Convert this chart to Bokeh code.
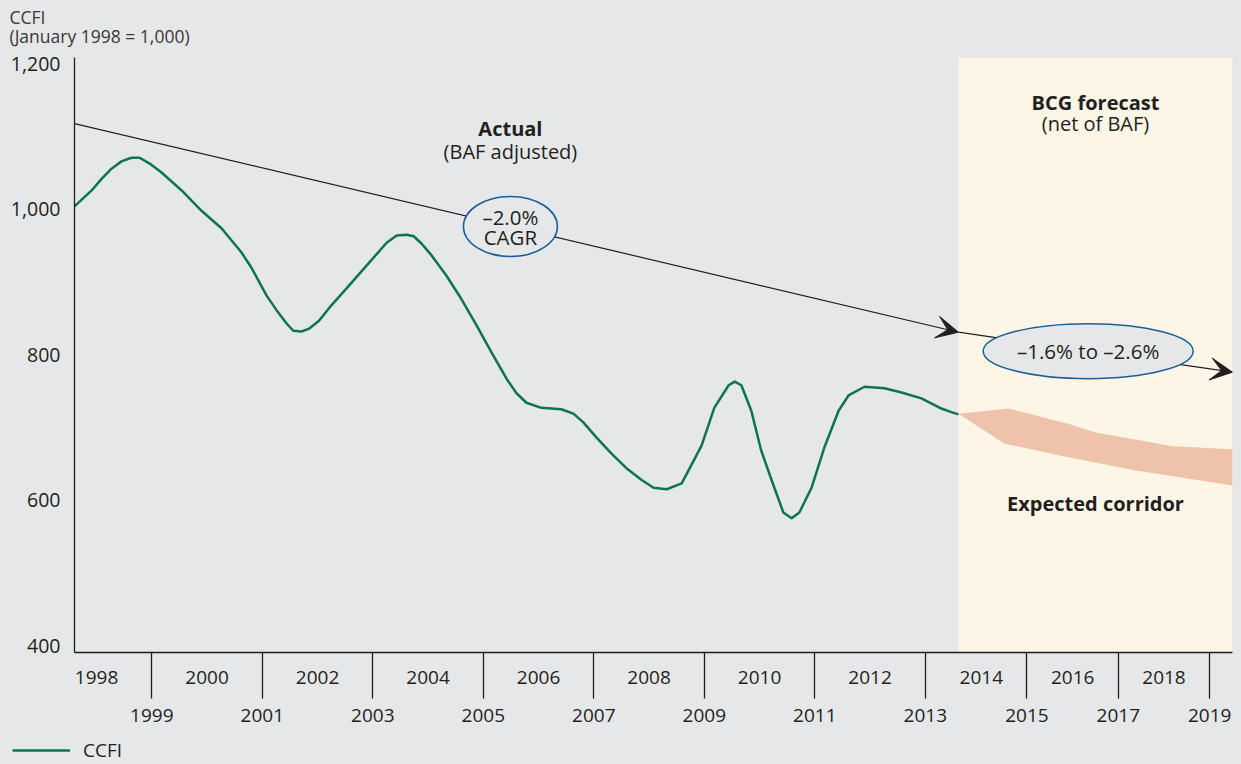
import numpy as np
from bokeh.plotting import figure
from bokeh.layouts import column, row
from bokeh.models import (Range1d, LinearAxis, FixedTicker, NumeralTickFormatter, BoxAnnotation,
                          Arrow, VeeHead, Label, Legend, LegendItem)
from bokeh.embed import file_html
from bokeh.resources import INLINE

# ---------------- data ----------------
ccfi_time = [1998.00, 1998.31, 1998.49, 1998.67, 1998.85, 1999.03, 1999.18, 1999.36, 1999.57, 1999.94,
             2000.30, 2000.66, 2001.02, 2001.20, 2001.48, 2001.66, 2001.84, 2001.96, 2002.11, 2002.25,
             2002.43, 2002.65, 2002.92, 2003.29, 2003.65, 2003.83, 2004.01, 2004.14, 2004.28, 2004.46,
             2004.73, 2005.00, 2005.28, 2005.55, 2005.82, 2006.00, 2006.18, 2006.45, 2006.81, 2007.03,
             2007.21, 2007.45, 2007.72, 2007.99, 2008.26, 2008.48, 2008.72, 2008.99, 2009.35, 2009.58,
             2009.84, 2009.95, 2010.07, 2010.25, 2010.43, 2010.62, 2010.83, 2010.98, 2011.12, 2011.34,
             2011.57, 2011.83, 2012.01, 2012.30, 2012.66, 2012.97, 2013.33, 2013.69, 2013.87, 2014.00]
ccfi_value = [1004, 1026, 1042, 1056, 1066, 1071, 1071, 1063, 1051, 1026,
              998, 974, 941, 920, 881, 861, 843, 833, 832, 836,
              847, 868, 891, 923, 954, 964, 965, 963, 953, 937,
              909, 877, 840, 803, 767, 747, 734, 727, 725, 719,
              707, 686, 664, 644, 628, 617, 615, 623, 675, 727,
              758, 763, 758, 723, 668, 627, 583, 575, 583, 617,
              672, 723, 744, 756, 754, 748, 740, 726, 721, 718]

corridor_upper_time = [2014.0, 2015.1, 2016.4, 2017.0, 2018.7, 2020.0]
corridor_upper_value = [719, 726, 705, 693, 674, 670]
corridor_lower_time = [2014.0, 2015.0, 2016.4, 2017.85, 2020.0]
corridor_lower_value = [719, 678, 659, 641, 620]

trend_time = [1998.0, 2014.0, 2020.0]
trend_value = [1118, 831, 776]

actual_years = list(range(1998, 2014))
forecast_years = list(range(2014, 2020))
y_ticks = [400, 600, 800, 1000, 1200]

# ---------------- axis mapping (forecast years drawn narrower) ----------------
FORECAST_START = 2014.0
FORECAST_SCALE = 45.67 / 55.25


def pos(t):
    t = float(t)
    if t <= FORECAST_START:
        return t - 1998.0
    return (FORECAST_START - 1998.0) + (t - FORECAST_START) * FORECAST_SCALE


def pos_all(ts):
    return [pos(t) for t in ts]


BG = "#e6e7e8"
TXT = "#231f20"
GREEN = "#0d7451"
FONT = "Open Sans"


def strip(height):
    f = figure(width=1241, height=height, output_backend="svg", toolbar_location=None,
               x_range=Range1d(0, 1), y_range=Range1d(0, 1), min_border=0,
               min_border_left=0, min_border_right=0, min_border_top=0, min_border_bottom=0,
               x_axis_location=None, y_axis_location=None)
    f.xgrid.visible = False
    f.ygrid.visible = False
    f.outline_line_color = None
    f.background_fill_color = BG
    f.border_fill_color = BG
    return f


# ---------------- header strip with the unit texts ----------------
top = strip(47)
for txt, yy in (("CCFI", 47 - 16), ("(January 1998 = 1,000)", 47 - 35)):
    top.add_layout(Label(x=9, y=yy, x_units="screen", y_units="screen", text=txt, text_font=FONT,
                         text_font_size="17.5px", text_color="#3a3738", text_align="left",
                         text_baseline="middle"))

# ---------------- main chart ----------------
p = figure(frame_width=1158, frame_height=595, output_backend="svg", toolbar_location=None,
           x_range=Range1d(0, pos(2020.0)), y_range=Range1d(390.4, 1208.9),
           min_border_left=74, min_border_right=9, min_border_top=10, min_border_bottom=76)
p.background_fill_color = BG
p.border_fill_color = BG
p.outline_line_color = None
p.xgrid.visible = False
p.ygrid.visible = False

# forecast band
p.add_layout(BoxAnnotation(left=pos(FORECAST_START), fill_color="#fdf6e6", fill_alpha=1.0,
                           line_color=None, level="underlay"))

# trend arrows
for i in range(2):
    p.add_layout(Arrow(end=VeeHead(size=22, fill_color=TXT, line_color=TXT, line_width=1),
                       x_start=pos(trend_time[i]), y_start=trend_value[i],
                       x_end=pos(trend_time[i + 1]), y_end=trend_value[i + 1],
                       line_color=TXT, line_width=1.2, level="underlay"))

# corridor
cx = pos_all(corridor_upper_time) + pos_all(corridor_lower_time[::-1])
cy = corridor_upper_value + corridor_lower_value[::-1]
p.patch(cx, cy, fill_color="#efc3ab", line_color=None)

# CCFI line
r = p.line(pos_all(ccfi_time), ccfi_value, line_color=GREEN, line_width=2.5, line_join="round")

# ellipses placed on the trend line
tx = pos_all(trend_time)
e1_t, e2_t = 2005.89, 2016.84
e1x, e2x = pos(e1_t), pos(e2_t)
e1y, e2y = float(np.interp(e1x, tx, trend_value)), float(np.interp(e2x, tx, trend_value))
p.ellipse(x=[e1x], y=[e1y], width=94, height=60, width_units="screen", height_units="screen",
          fill_color=BG, line_color="#1c5f97", line_width=1.5)
p.ellipse(x=[e2x], y=[e2y], width=210, height=55, width_units="screen", height_units="screen",
          fill_color=BG, line_color="#1c5f97", line_width=1.5)


def lab(x, y, text, size="20px", bold=False, align="center"):
    p.add_layout(Label(x=x, y=y, text=text, text_font=FONT,
                       text_font_size=size, text_color=TXT, text_align=align,
                       text_baseline="middle", text_font_style="bold" if bold else "normal"))


lab(e1x, e1y + 12.5, "\u20132.0%", size="20.5px")
lab(e1x, e1y - 14, "CAGR", size="20.5px")
lab(e2x, e2y, "\u20131.6% to \u20132.6%", size="20.5px")
lab(pos(2005.89), 1111, "Actual", bold=True)
lab(pos(2005.89), 1080, "(BAF adjusted)")
lab(pos(2017.0), 1147, "BCG forecast", bold=True)
lab(pos(2017.0), 1118, "(net of BAF)")
lab(pos(2017.0), 595, "Expected corridor", bold=True)

# y axis
ya = p.yaxis[0]
ya.ticker = FixedTicker(ticks=y_ticks)
ya.formatter = NumeralTickFormatter(format="0,0")
ya.major_tick_line_color = None
ya.major_tick_out = 0
ya.major_tick_in = 0
ya.minor_tick_line_color = None
ya.major_label_standoff = 14
ya.axis_line_color = TXT
ya.axis_line_width = 1.3
ya.major_label_text_font = FONT
ya.major_label_text_font_size = "19.5px"
ya.major_label_text_color = TXT


# x axes: even years on the first row, odd years (with separator ticks) on the second
def year_pos(y):
    return pos(y) + 0.4 if y < FORECAST_START else pos(y + 0.5)


all_years = actual_years + forecast_years
even_pos = [year_pos(y) for y in all_years if y % 2 == 0]
odd_pos = [year_pos(y) for y in all_years if y % 2 == 1]
even_over = {year_pos(y): str(y) for y in all_years if y % 2 == 0}
odd_over = {year_pos(y): str(y) for y in all_years if y % 2 == 1}

xa = p.xaxis[0]
xa.ticker = FixedTicker(ticks=even_pos, minor_ticks=[])
xa.major_label_overrides = even_over
xa.major_tick_line_color = None
xa.major_tick_out = 0
xa.major_tick_in = 0
xa.minor_tick_line_color = None
xa.minor_tick_out = 0
xa.minor_tick_in = 0
xa.axis_line_color = TXT
xa.axis_line_width = 1.3
xa.major_label_standoff = 18
xa.major_label_text_font = FONT
xa.major_label_text_font_size = "19px"
xa.major_label_text_color = TXT

xb = LinearAxis(ticker=FixedTicker(ticks=odd_pos, minor_ticks=[]), major_label_overrides=odd_over,
                major_tick_line_color=TXT, major_tick_line_width=1.3, major_tick_out=12, major_tick_in=34,
                minor_tick_line_color=None, minor_tick_out=0, minor_tick_in=0,
                axis_line_color=None, major_label_standoff=10,
                major_label_text_font=FONT, major_label_text_font_size="19px",
                major_label_text_color=TXT)
p.add_layout(xb, "below")

# ---------------- legend strip underneath ----------------
q = strip(36)
rl = q.line(np.array([np.nan, np.nan]), np.array([np.nan, np.nan]), line_color=GREEN, line_width=2.5)
legend = Legend(items=[LegendItem(label="CCFI", renderers=[rl])], location=(12, 1),
                padding=0, margin=0, glyph_width=58, glyph_height=20, label_standoff=13,
                background_fill_alpha=0, border_line_color=None,
                label_text_font=FONT, label_text_font_size="19px", label_text_color=TXT)
q.add_layout(legend)

layout = column(row(top), p, row(q), spacing=0, styles={"background-color": BG})
open("out.html", "w").write(file_html(layout, INLINE))
